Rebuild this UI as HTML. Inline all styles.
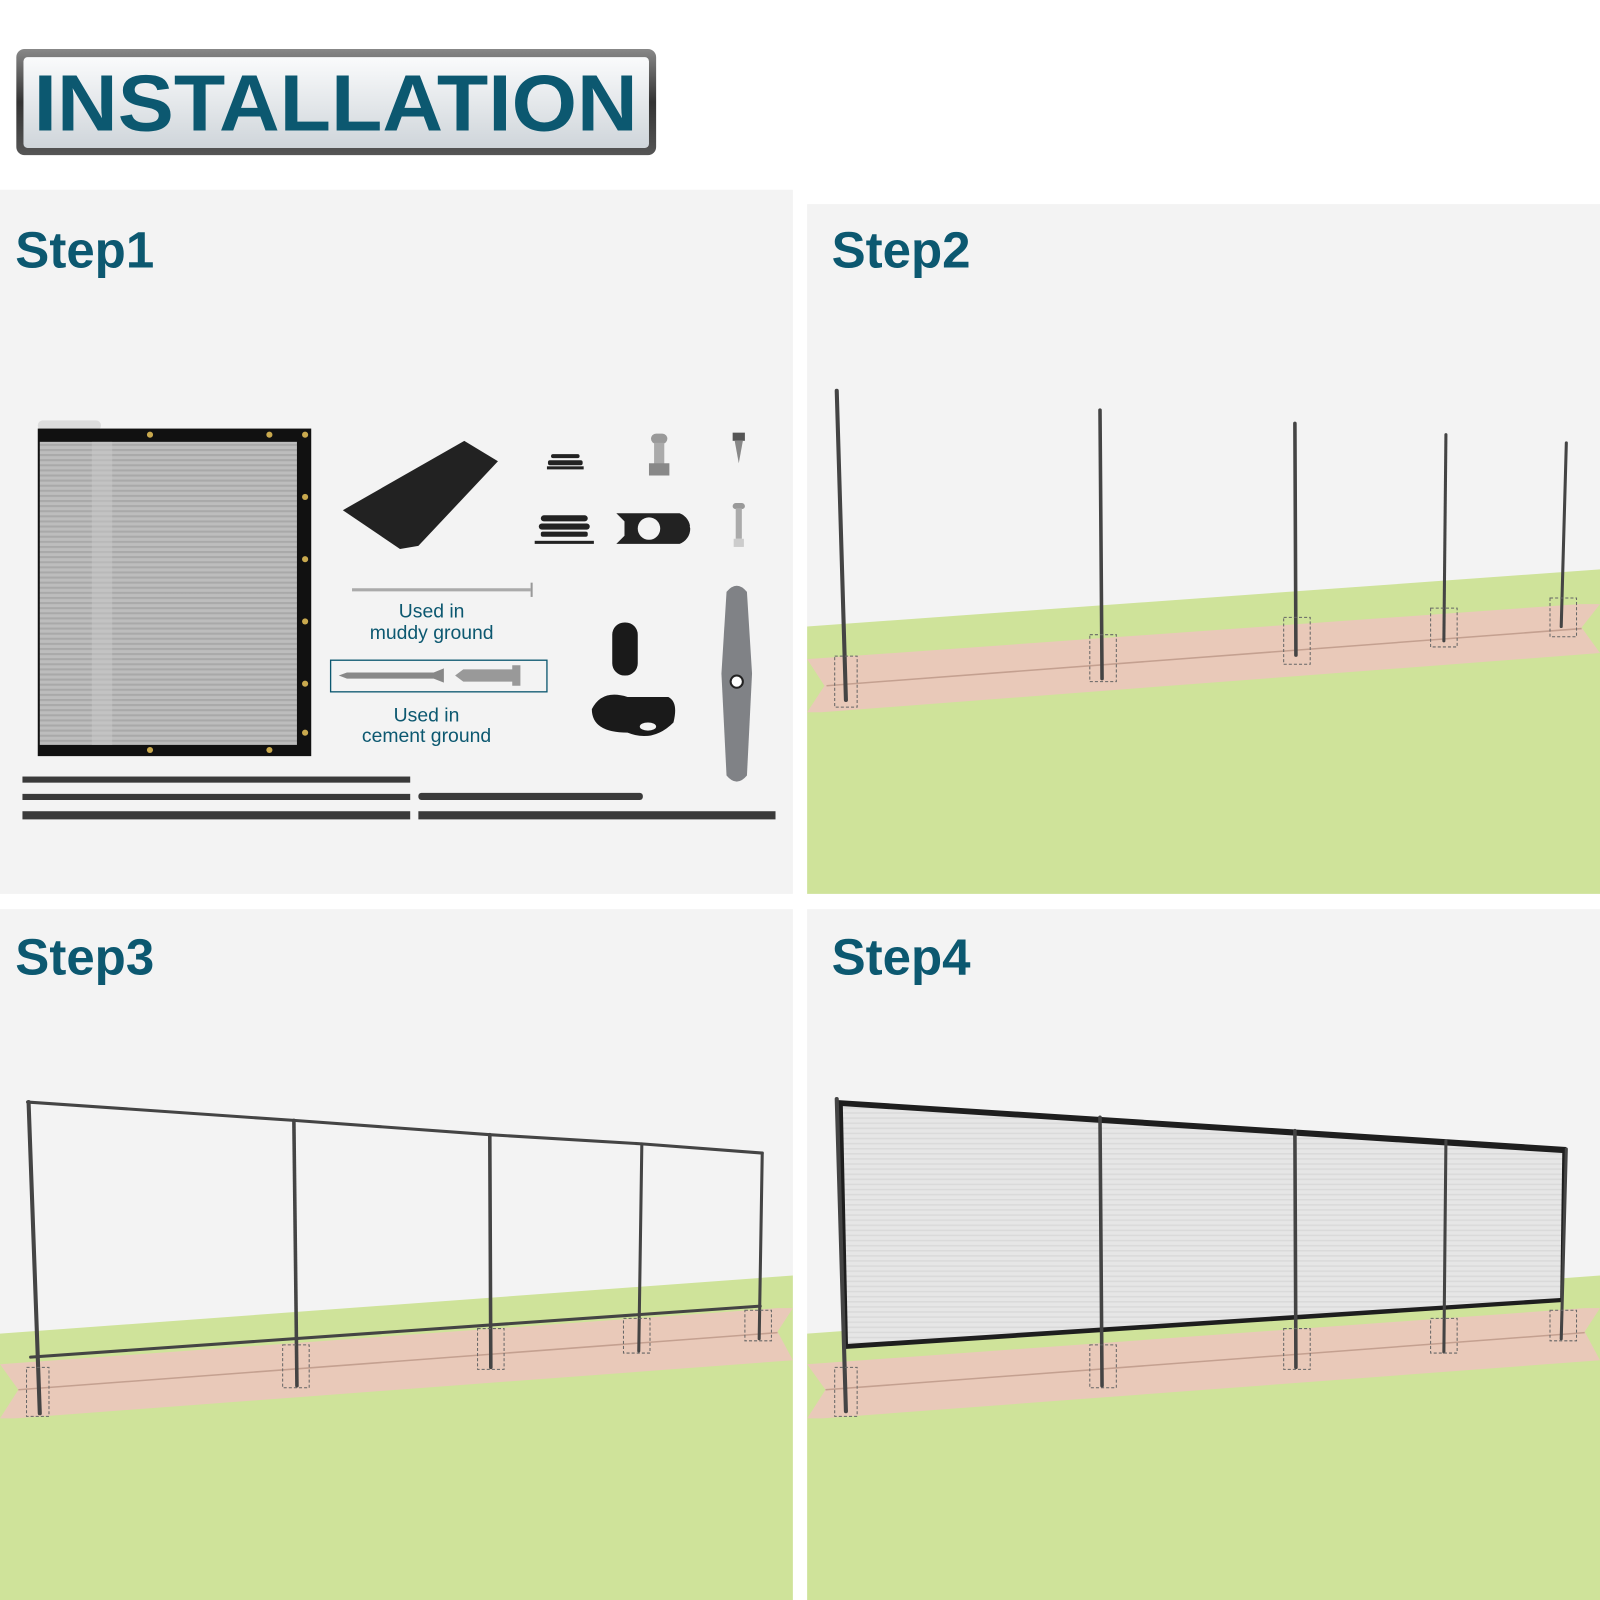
<!DOCTYPE html>
<html><head><meta charset="utf-8"><style>html,body{margin:0;padding:0;background:#fff}svg{display:block}</style></head>
<body>
<svg width="1600" height="1600" viewBox="0 0 1568 1568" xmlns="http://www.w3.org/2000/svg" font-family="Liberation Sans, sans-serif">
<defs>
<linearGradient id="hb" x1="0" y1="0" x2="0" y2="1"><stop offset="0" stop-color="#fafbfc"/><stop offset="1" stop-color="#cfd5da"/></linearGradient>
<linearGradient id="fr" x1="0" y1="0" x2="0" y2="1"><stop offset="0" stop-color="#888"/><stop offset="0.5" stop-color="#333"/><stop offset="1" stop-color="#555"/></linearGradient>
<pattern id="mesh" width="6" height="5" patternUnits="userSpaceOnUse"><rect width="6" height="5" fill="#bdbdbd"/><rect width="6" height="2" fill="#a9a9a9"/></pattern>
<pattern id="mesh2" width="5" height="5" patternUnits="userSpaceOnUse"><rect width="5" height="5" fill="#e6e6e6"/><rect width="5" height="1.5" fill="#dadada"/></pattern>
</defs>
<rect width="1568" height="1568" fill="#fff"/>
<rect x="16" y="48" width="627" height="104" rx="8" fill="url(#fr)"/>
<rect x="23" y="56" width="613" height="89" rx="4" fill="url(#hb)"/>
<text x="329" y="128" text-anchor="middle" font-size="78" font-weight="bold" fill="#0c5870" textLength="592" lengthAdjust="spacingAndGlyphs">INSTALLATION</text>
<rect x="0" y="186" width="777" height="690" fill="#f3f3f3"/>
<rect x="791" y="200" width="777" height="676" fill="#f3f3f3"/>
<rect x="0" y="891" width="777" height="677" fill="#f3f3f3"/>
<rect x="791" y="891" width="777" height="677" fill="#f3f3f3"/>
<g font-size="50" font-weight="bold" fill="#0c5870">
<text x="15" y="262">Step1</text><text x="815" y="262">Step2</text>
<text x="15" y="955">Step3</text><text x="815" y="955">Step4</text>
</g>
<rect x="37" y="412" width="62" height="10" rx="5" fill="#ddd"/>
<rect x="37" y="420" width="268" height="321" fill="#111"/>
<rect x="39" y="433" width="252" height="297" fill="url(#mesh)"/>
<rect x="90" y="433" width="20" height="297" fill="#cacaca" opacity="0.5"/>
<g fill="#c9a94e"><circle cx="147" cy="426" r="3"/><circle cx="264" cy="426" r="3"/><circle cx="147" cy="735" r="3"/><circle cx="264" cy="735" r="3"/><circle cx="299" cy="426" r="3"/><circle cx="299" cy="487" r="3"/><circle cx="299" cy="548" r="3"/><circle cx="299" cy="609" r="3"/><circle cx="299" cy="670" r="3"/><circle cx="299" cy="718" r="3"/></g>
<polygon points="336,500 455,432 488,452 410,535 392,538" fill="#222"/>
<g fill="#222"><rect x="540" y="445" width="28" height="4" rx="2"/><rect x="537" y="451" width="34" height="5" rx="2"/><rect x="536" y="457" width="36" height="3"/>
<rect x="530" y="505" width="46" height="6" rx="3"/><rect x="528" y="513" width="50" height="6" rx="3"/><rect x="530" y="521" width="46" height="5" rx="2"/><rect x="524" y="530" width="58" height="3"/>
<path d="M604 503 h22 h40 a16 16 0 0 1 0 30 h-40 h-22 l8 -8 v-14 z" /><circle cx="636" cy="518" r="11" fill="#f3f3f3"/></g>
<circle cx="679" cy="516" r="3" fill="#f3f3f3"/>
<rect x="638" y="425" width="16" height="10" rx="5" fill="#999"/><rect x="641" y="434" width="10" height="22" fill="#aaa"/><rect x="636" y="454" width="20" height="12" fill="#888"/>
<rect x="718" y="424" width="12" height="8" fill="#555"/><path d="M720 432 h8 l-4 22 z" fill="#888"/>
<rect x="718" y="493" width="12" height="6" rx="3" fill="#999"/><rect x="721" y="498" width="6" height="30" fill="#aaa"/><rect x="719" y="528" width="10" height="8" fill="#ccc"/>
<line x1="345" y1="578" x2="520" y2="578" stroke="#aaa" stroke-width="3"/><line x1="521" y1="571" x2="521" y2="585" stroke="#999" stroke-width="2"/>
<g font-size="19" fill="#0c5870" text-anchor="middle"><text x="423" y="605">Used in</text><text x="423" y="626">muddy ground</text><text x="418" y="707">Used in</text><text x="418" y="727">cement ground</text></g>
<rect x="324" y="647" width="212" height="31" fill="none" stroke="#0c5870" stroke-width="1.3"/>
<path d="M332 662 l8 -3 h85 l10 -4 v14 l-10 -4 h-85 z" fill="#888"/>
<path d="M446 662 l8 -6 h48 v-4 h8 v20 h-8 v-4 h-48 z" fill="#999"/>
<rect x="600" y="610" width="25" height="52" rx="12" fill="#1a1a1a"/>
<path d="M580 695 q10 -20 35 -12 h40 q10 5 5 25 q-20 20 -45 10 q-35 0 -35 -23z" fill="#1a1a1a"/><ellipse cx="635" cy="712" rx="8" ry="4" fill="#f3f3f3"/>
<path d="M712 580 q10 -12 20 0 l5 80 l-5 100 q-10 12 -20 0 l-5 -100z" fill="#808286"/><circle cx="722" cy="668" r="6" fill="#fff" stroke="#222" stroke-width="2"/>
<g fill="#3a3a3a"><rect x="22" y="761" width="380" height="6"/><rect x="22" y="778" width="380" height="6"/><rect x="410" y="777" width="220" height="7" rx="3"/><rect x="22" y="795" width="380" height="8"/><rect x="410" y="795" width="350" height="8"/></g>
<polygon points="791,614 1568,558 1568,876 791,876" fill="#cfe39a"/>
<polygon points="791,646 1548,592 1568,592 1550,615 1568,640 805,698 791,698 808,672" fill="#e9c9b9"/>
<line x1="810" y1="672" x2="1550" y2="616" stroke="#c4a090" stroke-width="1.5"/>
<g stroke="#444" stroke-linecap="round">
<line x1="820" y1="383" x2="829" y2="686" stroke-width="4"/>
<line x1="1078" y1="402" x2="1080" y2="665" stroke-width="3.5"/>
<line x1="1269" y1="415" x2="1270" y2="642" stroke-width="3.5"/>
<line x1="1417" y1="426" x2="1415" y2="628" stroke-width="3"/>
<line x1="1535" y1="434" x2="1530" y2="614" stroke-width="3"/>
</g>
<g fill="none" stroke="#666" stroke-dasharray="3 2"><rect x="818" y="643" width="22" height="50"/><rect x="1068" y="622" width="26" height="46"/><rect x="1258" y="605" width="26" height="46"/><rect x="1402" y="596" width="26" height="38"/><rect x="1519" y="586" width="26" height="38"/></g>
<polygon points="0,1307 777,1250 777,1568 0,1568" fill="#cfe39a"/>
<polygon points="0,1337 762,1282 777,1282 762,1305 777,1333 15,1390 0,1390 18,1362" fill="#e9c9b9"/>
<line x1="18" y1="1362" x2="762" y2="1306" stroke="#c4a090" stroke-width="1.5"/>
<g stroke="#444" stroke-linecap="round" fill="none">
<polyline points="27,1080 288,1098 480,1112 629,1121 747,1130" stroke-width="3"/>
<line x1="30" y1="1330" x2="745" y2="1280" stroke-width="3"/>
<line x1="28" y1="1080" x2="39" y2="1385" stroke-width="4"/>
<line x1="288" y1="1098" x2="291" y2="1358" stroke-width="3.5"/>
<line x1="480" y1="1112" x2="481" y2="1340" stroke-width="3.5"/>
<line x1="629" y1="1121" x2="626" y2="1324" stroke-width="3"/>
<line x1="747" y1="1130" x2="744" y2="1312" stroke-width="3"/>
</g>
<g fill="none" stroke="#666" stroke-dasharray="3 2"><rect x="26" y="1340" width="22" height="48"/><rect x="277" y="1318" width="26" height="42"/><rect x="468" y="1302" width="26" height="40"/><rect x="611" y="1292" width="26" height="34"/><rect x="730" y="1284" width="26" height="30"/></g>
<polygon points="791,1307 1568,1250 1568,1568 791,1568" fill="#cfe39a"/>
<polygon points="791,1337 1553,1282 1568,1282 1553,1305 1568,1333 806,1390 791,1390 809,1362" fill="#e9c9b9"/>
<line x1="809" y1="1362" x2="1553" y2="1306" stroke="#c4a090" stroke-width="1.5"/>
<polygon points="820,1078 1535,1124 1532,1276 828,1322" fill="#1e1e1e"/>
<polygon points="826,1084 1531,1130 1529,1272 831,1317" fill="url(#mesh2)"/>
<g stroke="#444" stroke-linecap="round">
<line x1="820" y1="1077" x2="829" y2="1383" stroke-width="4"/>
<line x1="1078" y1="1095" x2="1080" y2="1358" stroke-width="3.5"/>
<line x1="1269" y1="1108" x2="1270" y2="1340" stroke-width="3.5"/>
<line x1="1417" y1="1118" x2="1415" y2="1325" stroke-width="3"/>
<line x1="1535" y1="1126" x2="1530" y2="1312" stroke-width="3"/>
</g>
<g fill="none" stroke="#666" stroke-dasharray="3 2"><rect x="818" y="1340" width="22" height="48"/><rect x="1068" y="1318" width="26" height="42"/><rect x="1258" y="1302" width="26" height="40"/><rect x="1402" y="1292" width="26" height="34"/><rect x="1519" y="1284" width="26" height="30"/></g>
</svg>
</body></html>
